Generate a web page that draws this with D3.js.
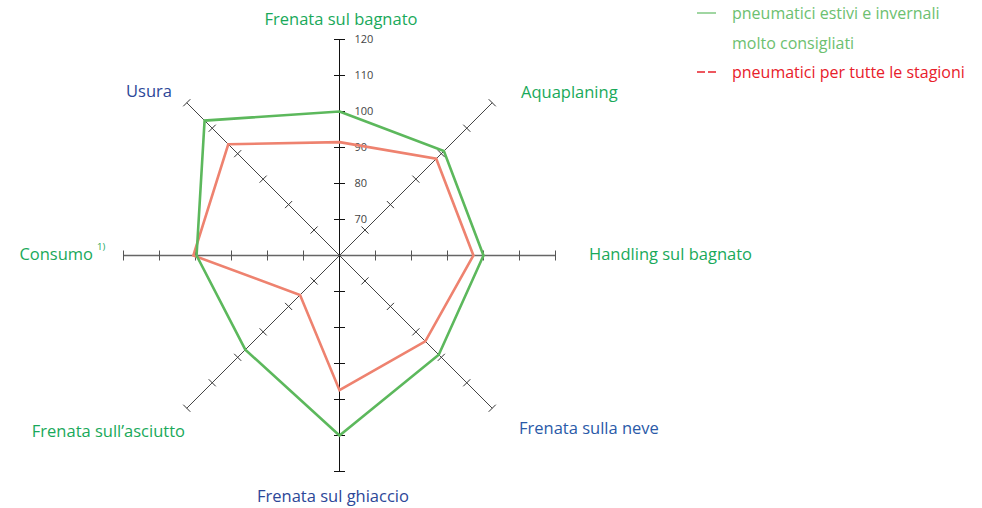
<!DOCTYPE html>
<html lang="it">
<head>
<meta charset="UTF-8">
<title>Pneumatici radar</title>
<script src="https://d3js.org/d3.v7.min.js"></script>
<style>
  body { margin: 0; background: #fff; }
  text { font-family: "Open Sans", "Noto Sans", sans-serif; }
</style>
</head>
<body>
<div id="chart"></div>
<script>
// categories, clockwise from the top
const categories = ['Frenata sul bagnato', 'Aquaplaning', 'Handling sul bagnato', 'Frenata sulla neve',
  'Frenata sul ghiaccio', 'Frenata sull\u2019asciutto', 'Consumo', 'Usura'];
const estiviInvernali = [100, 101, 100, 99, 110, 97, 99.7, 113];
const tutteStagioni = [91.5, 98, 97.2, 93.7, 97.4, 75.5, 100.6, 103.7];
const tickValues = [70, 80, 90, 100, 110, 120];

const labelColors = ['#19a95a', '#19a95a', '#19a95a', '#2a5aa8', '#2c4798', '#19a95a', '#19a95a', '#2c4798'];

const width = 982, height = 508;
const cx = 339.5, cy = 255.5;

const svg = d3.select('#chart').append('svg')
  .attr('width', width)
  .attr('height', height);

// radial scale: 60 at the centre, 120 at the end of each spoke
const r = d3.scaleLinear().domain([60, 120]).range([0, 216]);
const angle = d3.scaleLinear().domain([0, categories.length]).range([0, 2 * Math.PI]);

function pt(i, v) {
  const a = angle(i);
  return [cx + r(v) * Math.sin(a), cy - r(v) * Math.cos(a)];
}

// spokes (full lines through the centre)
const g = svg.append('g');
categories.forEach((c, i) => {
  const [x2, y2] = pt(i, 120);
  const isVert = i % 4 === 0, isHor = i % 4 === 2;
  g.append('line')
    .attr('x1', cx).attr('y1', cy).attr('x2', x2).attr('y2', y2)
    .attr('stroke', isVert ? '#111' : (isHor ? '#666' : '#444'))
    .attr('stroke-width', isHor ? 1.3 : 1);

  // ticks perpendicular to the spoke
  const a = angle(i);
  const px = Math.cos(a), py = Math.sin(a);
  tickValues.forEach(t => {
    const [tx, ty] = pt(i, t);
    const h = isVert ? 5.5 : 5;
    g.append('line')
      .attr('x1', tx - px * h).attr('y1', ty - py * h)
      .attr('x2', tx + px * h).attr('y2', ty + py * h)
      .attr('stroke', isVert ? '#111' : (isHor ? '#555' : '#333'))
      .attr('stroke-width', 1);
  });
});

// tick labels on the top spoke
tickValues.forEach(t => {
  g.append('text')
    .attr('x', cx + 15)
    .attr('y', cy - r(t))
    .attr('dy', '0.35em')
    .attr('font-size', 11)
    .attr('fill', '#444')
    .text(t);
});

const line = d3.line().curve(d3.curveLinearClosed);

svg.append('path')
  .datum(tutteStagioni.map((v, i) => pt(i, v)))
  .attr('d', line)
  .attr('fill', 'none')
  .attr('stroke', '#ee826f')
  .attr('stroke-width', 2.6)
  .attr('stroke-linejoin', 'miter');

svg.append('path')
  .datum(estiviInvernali.map((v, i) => pt(i, v)))
  .attr('d', line)
  .attr('fill', 'none')
  .attr('stroke', '#5cb85c')
  .attr('stroke-width', 2.6)
  .attr('stroke-linejoin', 'miter');

// category labels
const labelPos = [
  { x: 341, y: 19, anchor: 'middle' },
  { x: 521, y: 92, anchor: 'start' },
  { x: 589, y: 254, anchor: 'start' },
  { x: 519, y: 428, anchor: 'start' },
  { x: 333, y: 496, anchor: 'middle' },
  { x: 185, y: 431, anchor: 'end' },
  { x: 93, y: 254, anchor: 'end' },
  { x: 172, y: 91, anchor: 'end' }
];
categories.forEach((c, i) => {
  svg.append('text')
    .attr('x', labelPos[i].x)
    .attr('y', labelPos[i].y)
    .attr('dy', '0.35em')
    .attr('text-anchor', labelPos[i].anchor)
    .attr('font-size', 16.5)
    .attr('fill', labelColors[i])
    .text(c);
});
svg.append('text')
  .attr('x', 97).attr('y', 250)
  .attr('font-size', 9.5)
  .attr('fill', '#19a95a')
  .text('1)');

// legend
const legend = svg.append('g');
legend.append('line')
  .attr('x1', 697).attr('x2', 716).attr('y1', 13).attr('y2', 13)
  .attr('stroke', '#6cc070').attr('stroke-width', 1.3);
legend.append('text').attr('x', 732).attr('y', 13).attr('dy', '0.35em')
  .attr('font-size', 16).attr('fill', '#6cc070').text('pneumatici estivi e invernali');
legend.append('text').attr('x', 732).attr('y', 43).attr('dy', '0.35em')
  .attr('font-size', 16).attr('fill', '#6cc070').text('molto consigliati');
legend.append('line')
  .attr('x1', 697).attr('x2', 716).attr('y1', 72).attr('y2', 72)
  .attr('stroke', '#e8202a').attr('stroke-width', 1.3)
  .attr('stroke-dasharray', '8,3');
legend.append('text').attr('x', 732).attr('y', 72).attr('dy', '0.35em')
  .attr('font-size', 16).attr('fill', '#e8202a').text('pneumatici per tutte le stagioni');
</script>
</body>
</html>
